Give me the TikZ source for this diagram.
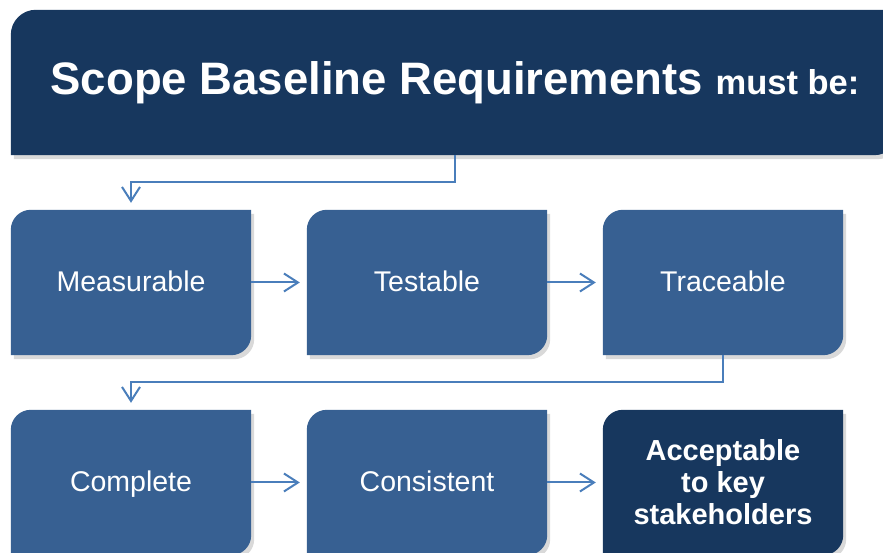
\documentclass[tikz,border=0pt]{standalone}
\usepackage{fontspec}
\setmainfont{Liberation Sans}
\usepackage{tikz}
\usetikzlibrary{positioning,arrows.meta,shadows,backgrounds}
\definecolor{navy}{HTML}{17375E}
\definecolor{steel}{HTML}{376092}
\definecolor{linkblue}{HTML}{4A7EBB}

\begin{document}
\begin{tikzpicture}[
        x=1pt, y=1pt,
        stepbox/.style={minimum width=240pt, minimum height=145pt, inner sep=0pt, text=white, text height=24pt, text depth=5pt, font=\fontsize{28.5}{32}\selectfont},
        keybox/.style={minimum width=240pt, minimum height=145pt, inner sep=0pt, text=white, align=center, font=\fontsize{29}{32}\selectfont\bfseries},
        titlebox/.style={minimum width=888pt, minimum height=145pt, inner sep=0pt, text=white, font=\bfseries},
        boxshadow/.style={drop shadow={shadow xshift=3pt, shadow yshift=-4pt, opacity=0.3}},
        link/.style={-{Straight Barb[length=14pt,width=18pt]}, draw=linkblue, line width=2pt}
    ]
    \useasboundingbox (0,0) rectangle (883,553);

    % Title
    \node[titlebox] (T) at (455, 470.5) {\fontsize{45.5}{54}\selectfont Scope Baseline Requirements \fontsize{34.5}{40}\selectfont must be:};

    % Row 1
    \foreach \name/\txt [count=\i from 0] in {M/Measurable, Te/Testable, Tr/Traceable} {
        \node[stepbox] (\name) at (131+296*\i, 270.5) {\txt};
    }

    % Row 2
    \foreach \name/\txt [count=\i from 0] in {C/Complete, Co/Consistent} {
        \node[stepbox] (\name) at (131+296*\i, 70.5) {\txt};
    }
    \node[keybox] (A) at (723, 70.5) {Acceptable\\to key\\stakeholders};

    % Box shapes (rounded top left and bottom right)
    \begin{scope}[on background layer]
    \foreach \name/\col/\rad in {T/navy/25, M/steel/20, Te/steel/20, Tr/steel/20, C/steel/20, Co/steel/20, A/navy/20} {
        \fill[\col, boxshadow] (\name.south west) -- ([yshift=-\rad pt]\name.north west)
            arc[start angle=180, end angle=90, radius=\rad pt] -- (\name.north east)
            -- ([yshift=\rad pt]\name.south east) arc[start angle=0, end angle=-90, radius=\rad pt] -- cycle;
    }
    \end{scope}

    % Connections
    \draw[link] (T.south) -- ++(0,-27) -| ([yshift=7pt]M.north);
    \draw[link] (Tr.south) -- ++(0,-27) -| ([yshift=7pt]C.north);
    \foreach \a/\b in {M/Te, Te/Tr, C/Co, Co/A} {
        \draw[link] (\a.east) -- ([xshift=-7pt]\b.west);
    }

\end{tikzpicture}
\end{document}
